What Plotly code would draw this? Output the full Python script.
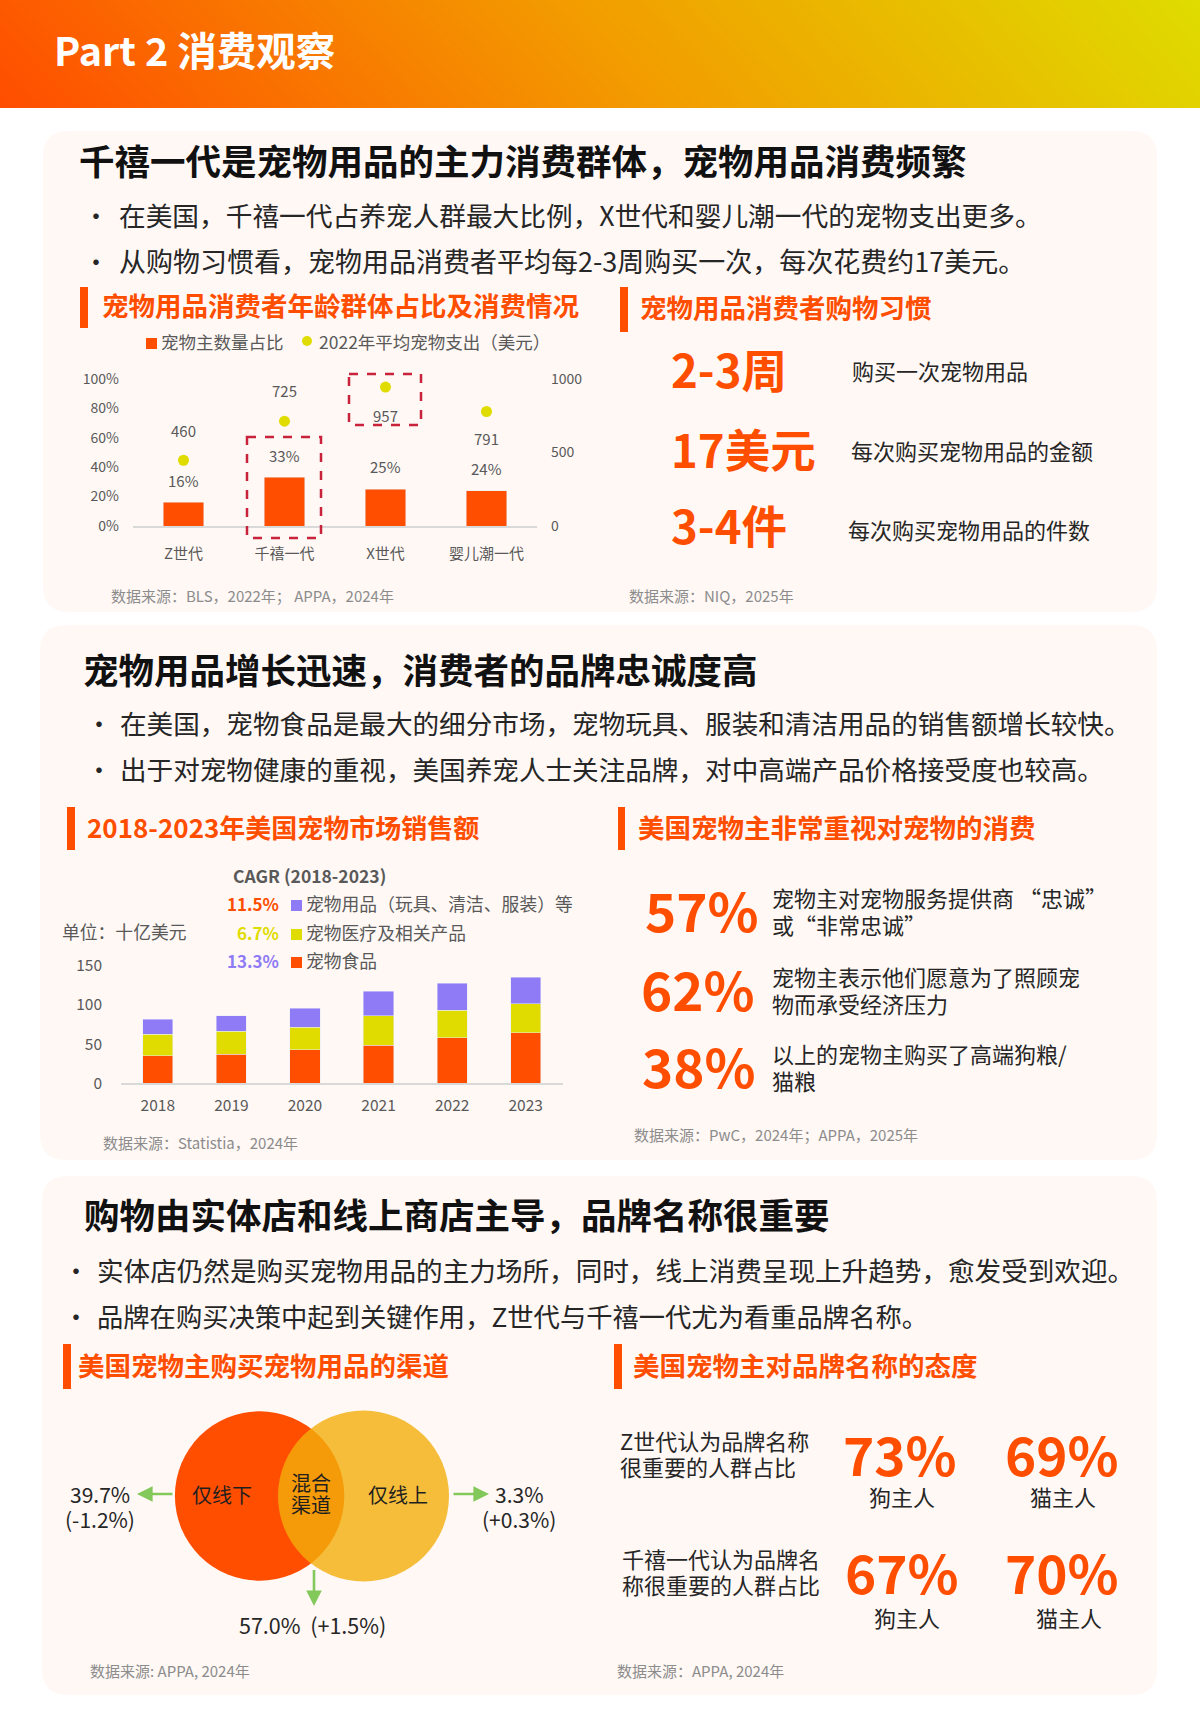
import plotly.graph_objects as go

# ---------- data ----------
age_groups = ["Z世代", "千禧一代", "X世代", "婴儿潮一代"]
owner_share = [16, 33, 25, 24]
avg_spend = [460, 725, 957, 791]

years = ["2018", "2019", "2020", "2021", "2022", "2023"]
pet_food = [34.9, 37.0, 42.5, 48.5, 58.3, 64.2]
pet_medical = [27.6, 29.3, 29.3, 37.4, 35.2, 37.4]
pet_supplies = [19.5, 19.6, 23.9, 31.4, 34.1, 33.6]
cagr_labels = ["11.5%", "6.7%", "13.3%"]
market_legend = ["宠物用品（玩具、清洁、服装）等", "宠物医疗及相关产品", "宠物食品"]

left_ticks = [0, 20, 40, 60, 80, 100]
left_ticktext = ["0%", "20%", "40%", "60%", "80%", "100%"]
right_ticks = [0, 500, 1000]
market_ticks = [0, 50, 100, 150]

# ---------- style ----------
W, H = 1200, 1735
FONT = "Noto Sans CJK SC"
ORANGE = "#FF4E00"
YELLOW = "#E0DC00"
PURPLE = "#8F7BF5"
CARD = "#FFF8F5"
DARK = "#262626"
GREY = "#595959"
SRC = "#8C8C8C"
GREEN = "#82C85A"
AXIS = "#D9D9D9"
CRIMSON = "#C8233A"


def px(x):
    return x / W


def py(y):
    return 1 - y / H


annotations = []
shapes = []


def text(x, y, s, size, color=DARK, bold=False, anchor="left"):
    annotations.append(dict(
        x=px(x), y=py(y - 0.09 * size), xref="paper", yref="paper", text=f"<b>{s}</b>" if bold else s,
        showarrow=False, xanchor=anchor, yanchor="middle",
        font=dict(family=FONT, size=size, color=color), borderpad=0, borderwidth=0,
    ))


def rect(x0, y0, x1, y1, color):
    shapes.append(dict(type="rect", xref="paper", yref="paper", x0=px(x0), x1=px(x1),
                       y0=py(y0), y1=py(y1), fillcolor=color, line_width=0, layer="below"))


def dashed(x0, y0, x1, y1):
    shapes.append(dict(type="rect", xref="paper", yref="paper", x0=px(x0), x1=px(x1),
                       y0=py(y0), y1=py(y1), fillcolor="rgba(0,0,0,0)",
                       line=dict(color=CRIMSON, width=2.5, dash="dash"), layer="above"))


def card(x0, y0, x1, y1, r=26):
    p = (f"M {px(x0 + r)} {py(y0)} L {px(x1 - r)} {py(y0)} Q {px(x1)} {py(y0)} {px(x1)} {py(y0 + r)} "
         f"L {px(x1)} {py(y1 - r)} Q {px(x1)} {py(y1)} {px(x1 - r)} {py(y1)} "
         f"L {px(x0 + r)} {py(y1)} Q {px(x0)} {py(y1)} {px(x0)} {py(y1 - r)} "
         f"L {px(x0)} {py(y0 + r)} Q {px(x0)} {py(y0)} {px(x0 + r)} {py(y0)} Z")
    shapes.append(dict(type="path", xref="paper", yref="paper", path=p, fillcolor=CARD,
                       line_width=0, layer="below"))


def circle(cx, cy, r, color):
    shapes.append(dict(type="circle", xref="paper", yref="paper", x0=px(cx - r), x1=px(cx + r),
                       y0=py(cy + r), y1=py(cy - r), fillcolor=color, line_width=0, layer="above"))


def arrow(x0, y0, x1, y1):
    annotations.append(dict(x=px(x1), y=py(y1), xref="paper", yref="paper", ax=x0 - x1, ay=y0 - y1,
                            text=" ", font=dict(size=1), borderpad=0, showarrow=True, arrowhead=2, arrowsize=1.2,
                            arrowwidth=2.6, arrowcolor=GREEN))


def subhead(bx0, by0, bx1, by1, tx, ty, s, size=26.5):
    rect(bx0, by0, bx1, by1, ORANGE)
    text(tx, ty, s, size, ORANGE, True)


# ---------- cards ----------
card(43, 131, 1157, 612)
card(40, 625, 1157, 1160)
card(42, 1176, 1157, 1695)

# ---------- header ----------
text(54, 52, "Part 2 消费观察", 39.5, "white", True)

# ---------- section 1 ----------
text(79, 163, "千禧一代是宠物用品的主力消费群体，宠物用品消费频繁", 35.5, "#111111", True)
text(83, 217, "•", 26)
text(119, 217, "在美国，千禧一代占养宠人群最大比例，X世代和婴儿潮一代的宠物支出更多。", 26.7)
text(83, 263, "•", 26)
text(119, 263, "从购物习惯看，宠物用品消费者平均每2-3周购买一次，每次花费约17美元。", 27)

subhead(80, 287, 88, 328, 102, 307, "宠物用品消费者年龄群体占比及消费情况")
rect(146, 338, 157, 349, ORANGE)
text(161, 343, "宠物主数量占比", 17.5, GREY)
text(319, 343, "2022年平均宠物支出（美元）", 17.5, GREY)
dashed(247, 437, 321, 538)
dashed(349, 374, 421, 425)
text(111, 597, "数据来源：BLS，2022年； APPA，2024年", 15, SRC)

subhead(620, 287, 628, 332, 640, 309, "宠物用品消费者购物习惯")
for y, big, x2, desc in [(372, "2-3周", 852, "购买一次宠物用品"),
                         (452, "17美元", 851, "每次购买宠物用品的金额"),
                         (528, "3-4件", 848, "每次购买宠物用品的件数")]:
    text(671, y, big, 45.5, ORANGE, True)
    text(x2, y + (3 if big == "3-4件" else 0), desc, 22, DARK)
text(629, 597, "数据来源：NIQ，2025年", 15, SRC)

# ---------- section 2 ----------
text(83, 672, "宠物用品增长迅速，消费者的品牌忠诚度高", 35.5, "#111111", True)
text(86, 725, "•", 26)
text(120, 725, "在美国，宠物食品是最大的细分市场，宠物玩具、服装和清洁用品的销售额增长较快。", 26.6)
text(86, 771, "•", 26)
text(120, 771, "出于对宠物健康的重视，美国养宠人士关注品牌，对中高端产品价格接受度也较高。", 26.6)

subhead(67, 807, 75, 850, 87, 829, "2018-2023年美国宠物市场销售额", 26)
text(309, 877, "CAGR (2018-2023)", 17.5, GREY, True, "center")
text(62, 933, "单位：十亿美元", 17.8, GREY)
for y, cagr, col, lab, sq in zip([905, 934, 962], cagr_labels, [ORANGE, YELLOW, PURPLE], market_legend,
                                 [PURPLE, YELLOW, ORANGE]):
    text(279, y, cagr, 17, col, True, "right")
    rect(291, y - 5, 302, y + 6, sq)
    text(306, y, lab, 17.8, GREY)
text(103, 1144, "数据来源：Statistia，2024年", 15, SRC)

subhead(618, 807, 625, 850, 638, 829, "美国宠物主非常重视对宠物的消费")
for y, big, x0, l1, l2 in [(914, "57%", 645, "宠物主对宠物服务提供商 “忠诚”", "或“非常忠诚”"),
                           (993, "62%", 641, "宠物主表示他们愿意为了照顾宠", "物而承受经济压力"),
                           (1070, "38%", 642, "以上的宠物主购买了高端狗粮/", "猫粮")]:
    text(x0, y, big, 53, ORANGE, True)
    text(772, y - 15, l1, 22)
    text(772, y + 12, l2, 22)
text(634, 1136, "数据来源：PwC，2024年；APPA，2025年", 15, SRC)

# ---------- section 3 ----------
text(84, 1217, "购物由实体店和线上商店主导，品牌名称很重要", 35.5, "#111111", True)
text(63, 1272, "•", 26)
text(97, 1272, "实体店仍然是购买宠物用品的主力场所，同时，线上消费呈现上升趋势，愈发受到欢迎。", 26.6)
text(63, 1318, "•", 26)
text(97, 1318, "品牌在购买决策中起到关键作用，Z世代与千禧一代尤为看重品牌名称。", 26.3)

subhead(63, 1344, 71, 1389, 78, 1367, "美国宠物主购买宠物用品的渠道")
circle(259.6, 1496, 84.7, ORANGE)
circle(363.5, 1496, 85.5, "rgba(242,174,11,0.8)")
text(222, 1496, "仅线下", 20, "#1F1F1F", False, "center")
text(311, 1484, "混合", 20, "#1F1F1F", False, "center")
text(311, 1506, "渠道", 20, "#1F1F1F", False, "center")
text(398, 1496, "仅线上", 20, "#1F1F1F", False, "center")
arrow(173, 1494, 137, 1494)
arrow(453, 1494, 489, 1494)
arrow(314, 1569, 314, 1606)
text(100, 1496, "39.7%", 21, DARK, False, "center")
text(100, 1521, "(-1.2%)", 21, DARK, False, "center")
text(519, 1496, "3.3%", 21, DARK, False, "center")
text(519, 1521, "(+0.3%)", 21, DARK, False, "center")
text(313, 1626, "57.0%  (+1.5%)", 21.5, DARK, False, "center")
text(90, 1672, "数据来源: APPA, 2024年", 15, SRC)

subhead(614, 1344, 622, 1389, 633, 1367, "美国宠物主对品牌名称的态度")
text(620, 1442, "Z世代认为品牌名称", 22)
text(620, 1468, "很重要的人群占比", 22)
text(622, 1560, "千禧一代认为品牌名", 22)
text(622, 1586, "称很重要的人群占比", 22)
text(900, 1458, "73%", 53, ORANGE, True, "center")
text(1062, 1458, "69%", 53, ORANGE, True, "center")
text(902, 1576, "67%", 53, ORANGE, True, "center")
text(1062, 1576, "70%", 53, ORANGE, True, "center")
text(902, 1498, "狗主人", 22, DARK, False, "center")
text(1063, 1498, "猫主人", 22, DARK, False, "center")
text(907, 1619, "狗主人", 22, DARK, False, "center")
text(1069, 1619, "猫主人", 22, DARK, False, "center")
text(617, 1672, "数据来源：APPA, 2024年", 15, SRC)

# ---------- traces ----------
fig = go.Figure()

# header gradient
fig.add_trace(go.Heatmap(z=[[0.0, 0.93], [0.08, 1.0]], x=[0, 1], y=[0, 1], zsmooth="best", showscale=False,
                         hoverinfo="skip", xaxis="x3", yaxis="y3", zmin=0, zmax=1,
                         colorscale=[[0, "#FF4D00"], [0.5, "#F39A00"], [1, "#DFDC00"]]))

# age chart
fig.add_trace(go.Bar(x=age_groups, y=owner_share, width=0.4, marker_color=ORANGE, xaxis="x", yaxis="y"))
fig.add_trace(go.Scatter(x=age_groups, y=avg_spend, mode="markers", xaxis="x", yaxis="y2",
                         marker=dict(color=YELLOW, size=11)))
for cat, v, dy in zip(age_groups, owner_share, [22, 22, 23, 22]):
    annotations.append(dict(x=cat, y=v, xref="x", yref="y", text=f"{v}%", showarrow=False, yshift=dy,
                            font=dict(family=FONT, size=15, color=GREY)))
for cat, v, dy in zip(age_groups, avg_spend, [30, 31, -28, -27]):
    annotations.append(dict(x=cat, y=v, xref="x", yref="y2", text=str(v), showarrow=False, yshift=dy,
                            font=dict(family=FONT, size=15, color=GREY)))
shapes.append(dict(type="circle", xref="paper", yref="paper", x0=px(302), x1=px(312), y0=py(346), y1=py(336),
                   fillcolor=YELLOW, line_width=0, layer="below"))

# market chart
for name, vals, col in [("宠物食品", pet_food, ORANGE), ("宠物医疗及相关产品", pet_medical, YELLOW),
                        ("宠物用品", pet_supplies, PURPLE)]:
    fig.add_trace(go.Bar(x=years, y=vals, name=name, width=0.41, marker_color=col, xaxis="x4", yaxis="y4"))

tickfont = dict(family=FONT, size=14, color=GREY)
fig.update_layout(
    width=W, height=H, margin=dict(l=0, r=0, t=0, b=0, autoexpand=False), autosize=False,
    paper_bgcolor="white", plot_bgcolor="rgba(0,0,0,0)", showlegend=False, barmode="stack",
    annotations=annotations, shapes=shapes, font=dict(family=FONT),
    xaxis=dict(domain=[px(133), px(537)], anchor="y", type="category", categoryorder="array",
               categoryarray=age_groups, showgrid=False, zeroline=False, showline=True, linecolor=AXIS, linewidth=1.5,
               ticks="", ticklabelstandoff=13, tickfont=dict(family=FONT, size=15, color=GREY)),
    yaxis=dict(domain=[py(526), py(378.7)], range=[0, 100], anchor="x", tickvals=left_ticks, ticktext=left_ticktext,
               showgrid=False, zeroline=False, ticks="", ticklabelstandoff=13, tickfont=tickfont),
    yaxis2=dict(domain=[py(528), py(380.7)], range=[0, 1000], anchor="x", side="right", tickvals=right_ticks,
                showgrid=False, zeroline=False, ticks="", ticklabelstandoff=13, tickfont=tickfont, ticklabelshift=-2),
    xaxis3=dict(domain=[0, 1], range=[0, 1], anchor="y3", visible=False, fixedrange=True),
    yaxis3=dict(domain=[py(108), 1], range=[0, 1], anchor="x3", visible=False, fixedrange=True),
    xaxis4=dict(domain=[px(121), px(562.5)], anchor="y4", type="category", showgrid=False, zeroline=False,
                showline=True, linecolor=AXIS, linewidth=1.5, ticks="", ticklabelstandoff=7,
                tickfont=dict(family=FONT, size=15.5, color=GREY)),
    yaxis4=dict(domain=[py(1083.3), py(965.7)], range=[0, 150], anchor="x4", tickvals=market_ticks, showgrid=False,
                zeroline=False, ticks="", ticklabelstandoff=18, tickfont=dict(family=FONT, size=15.5, color=GREY)),
)

fig.write_html("out.html", config=dict(displayModeBar=False),
               post_script="document.body.style.margin='0';document.body.style.overflow='hidden';")
